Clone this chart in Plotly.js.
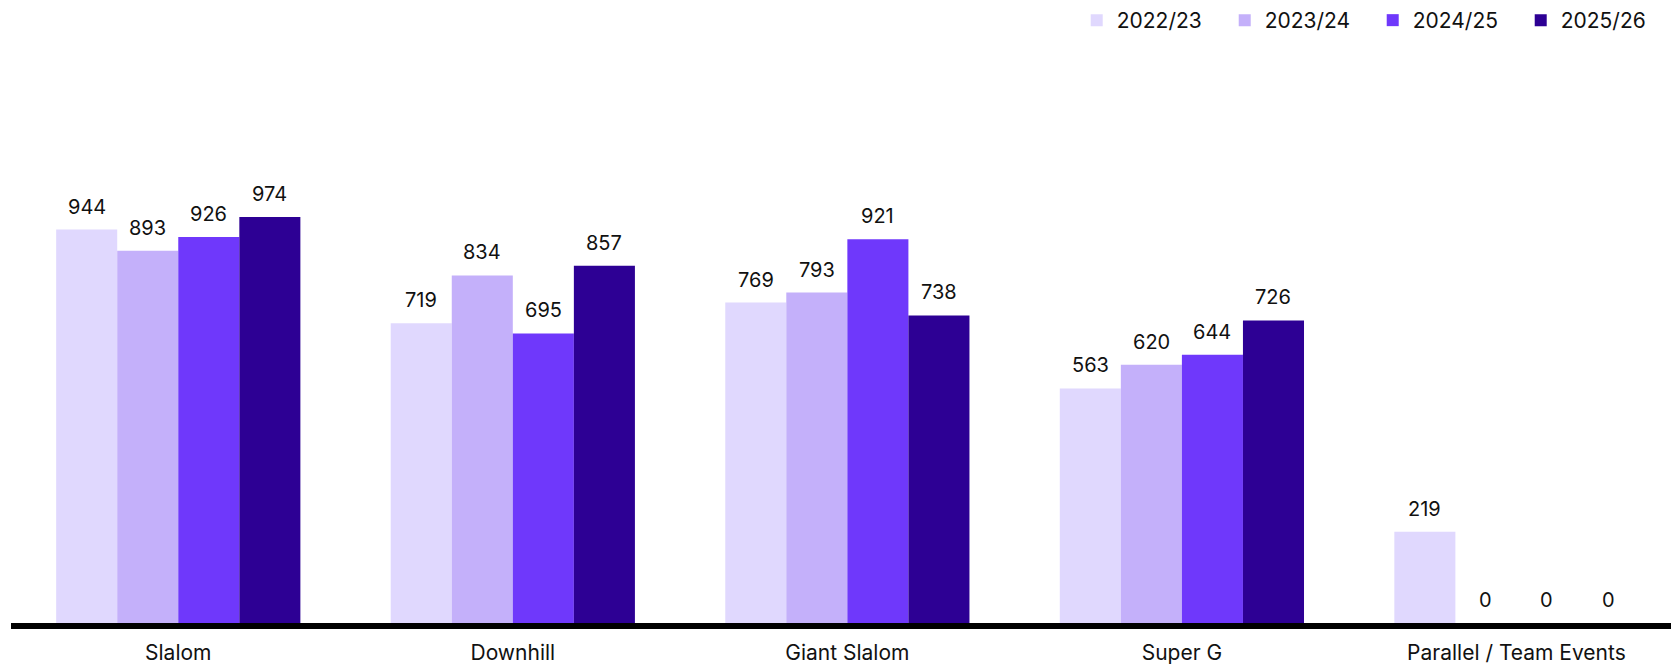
<!DOCTYPE html>
<html>
<head>
<meta charset="utf-8">
<script src="https://cdn.plot.ly/plotly-3.0.1.min.js"></script>
<style>html,body{margin:0;padding:0;background:#fff;}#chart{width:1671px;height:664px;}</style>
</head>
<body>
<div id="chart"></div>
<script>
const categories = ["Slalom", "Downhill", "Giant Slalom", "Super G", "Parallel / Team Events"];
const seasons = ["2022/23", "2023/24", "2024/25", "2025/26"];
const values2223 = [944, 719, 769, 563, 219];
const values2324 = [893, 834, 793, 620, 0];
const values2425 = [926, 695, 921, 644, 0];
const values2526 = [974, 857, 738, 726, 0];
const colors = ["#E0D8FE", "#C4B0FA", "#6F38FB", "#2D0094"];

const series = [values2223, values2324, values2425, values2526];
const bargap = 0.27;
const barW = (1 - bargap) / series.length;

const traces = series.map((vals, j) => ({
  type: "bar",
  name: seasons[j],
  x: categories,
  y: vals,
  marker: {color: colors[j]},
  hoverinfo: "x+y+name"
}));

const annotations = [];
series.forEach((vals, j) => {
  vals.forEach((v, i) => {
    annotations.push({
      x: i + (j - (series.length - 1) / 2) * barW,
      y: v,
      xref: "x", yref: "y",
      text: String(v),
      showarrow: false,
      yanchor: "bottom",
      yshift: 9,
      font: {family: "Inter, sans-serif", size: 20, color: "#111"}
    });
  });
});

const layout = {
  width: 1671, height: 664,
  margin: {l: 11, r: 0, t: 40, b: 41, pad: 0, autoexpand: false},
  paper_bgcolor: "#fff", plot_bgcolor: "#fff",
  barmode: "group", bargap: bargap, bargroupgap: 0,
  font: {family: "Inter, sans-serif", color: "#111"},
  xaxis: {
    type: "category",
    range: [-0.5, 4.462],
    showline: true, linecolor: "#000", linewidth: 6,
    showgrid: false, zeroline: false, ticks: "",
    tickfont: {family: "Inter, sans-serif", size: 21, color: "#111"},
    ticklabelstandoff: 6,
    automargin: false,
    fixedrange: true
  },
  yaxis: {
    range: [0, 1399], visible: false, showgrid: false, zeroline: false, fixedrange: true
  },
  showlegend: true,
  legend: {
    orientation: "h",
    x: 0.642, xanchor: "left",
    yref: "container", y: 1, yanchor: "top",
    entrywidth: 103,
    font: {family: "Inter, sans-serif", size: 21, color: "#111"},
    bgcolor: "rgba(0,0,0,0)"
  },
  annotations: annotations
};

Plotly.newPlot("chart", traces, layout, {displayModeBar: false, staticPlot: true});
</script>
</body>
</html>
